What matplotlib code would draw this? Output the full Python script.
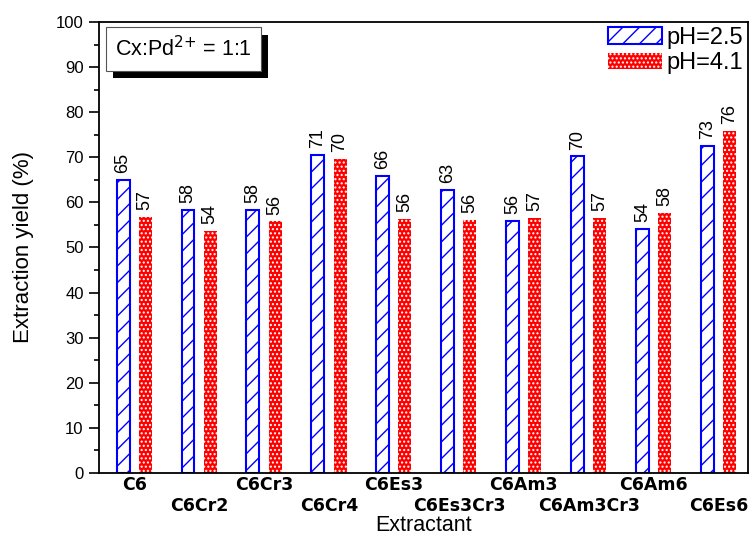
import matplotlib
matplotlib.use("Agg")
import matplotlib.pyplot as plt
import matplotlib.patheffects as pe
from matplotlib.patches import Patch
import numpy as np

plt.rcParams["font.family"] = ["Liberation Sans", "DejaVu Sans"]
plt.rcParams["hatch.linewidth"] = 1.0

# data
extractants = ["C6", "C6Cr2", "C6Cr3", "C6Cr4", "C6Es3",
               "C6Es3Cr3", "C6Am3", "C6Am3Cr3", "C6Am6", "C6Es6"]
yield_ph25 = [65.0, 58.4, 58.4, 70.6, 65.8, 62.7, 55.9, 70.2, 54.2, 72.6]
yield_ph41 = [56.8, 53.6, 55.8, 69.6, 56.3, 56.2, 56.6, 56.6, 57.7, 75.8]

x = np.arange(len(extractants))
w = 0.2
off = 0.17

fig = plt.figure(figsize=(7.54, 5.36), dpi=100)
ax = fig.add_axes([0.1313, 0.1175, 0.8607, 0.8415])

ax.bar(x - off, yield_ph25, w, facecolor="white", edgecolor="blue",
       hatch="//", linewidth=1.5)
ax.bar(x + off, yield_ph41, w, facecolor="red", edgecolor="white",
       hatch="....", linewidth=0)

for xi, v in zip(x - off, yield_ph25):
    ax.text(xi, v + 1.5, f"{v:.0f}", rotation=90, ha="center", va="bottom",
            fontsize=13)
for xi, v in zip(x + off, yield_ph41):
    ax.text(xi, v + 1.5, f"{v:.0f}", rotation=90, ha="center", va="bottom",
            fontsize=13)

ax.set_xlim(-0.54, 9.45)
ax.set_ylim(0, 100)
ax.set_yticks(range(0, 101, 10))
ax.set_yticks(range(5, 100, 10), minor=True)
ax.tick_params(axis="y", which="major", length=7, width=1.2, labelsize=12,
               pad=4, direction="out")
ax.tick_params(axis="y", which="minor", length=3.5, width=1.2, direction="out")

ax.set_xticks(x)
ax.set_xticklabels(extractants, fontsize=12.5, fontweight="bold",
                   family="DejaVu Sans")
ax.tick_params(axis="x", length=0)
for i, t in enumerate(ax.xaxis.get_major_ticks()):
    t.set_pad(2 if i % 2 == 0 else 17)

ax.set_xlabel("Extractant", fontsize=15.5, labelpad=0)
ax.set_ylabel("Extraction yield (%)", fontsize=16, labelpad=16)

for s in ax.spines.values():
    s.set_linewidth(1.3)

# annotation box
txt = ax.text(0.0247, 0.968, "Cx:Pd$^{2{+}}$ = 1:1", transform=ax.transAxes,
              fontsize=15.5, va="top", ha="left",
              bbox=dict(boxstyle="square,pad=0.42", facecolor="white",
                        edgecolor="#555555", linewidth=0.8))
txt.get_bbox_patch().set_path_effects([
    pe.SimplePatchShadow(offset=(5, -5.5), shadow_rgbFace="black", alpha=1.0),
    pe.Normal()])

handles = [Patch(facecolor="white", edgecolor="blue", hatch="//", linewidth=1.5),
           Patch(facecolor="red", edgecolor="white", hatch="....", linewidth=0)]
ax.legend(handles, ["pH=2.5", "pH=4.1"], loc="upper right", frameon=False,
          fontsize=17, handlelength=2.3, handleheight=0.68, handletextpad=0.2,
          labelspacing=0.15, borderaxespad=0, borderpad=0.2)

fig.savefig("out.png", dpi=100)
